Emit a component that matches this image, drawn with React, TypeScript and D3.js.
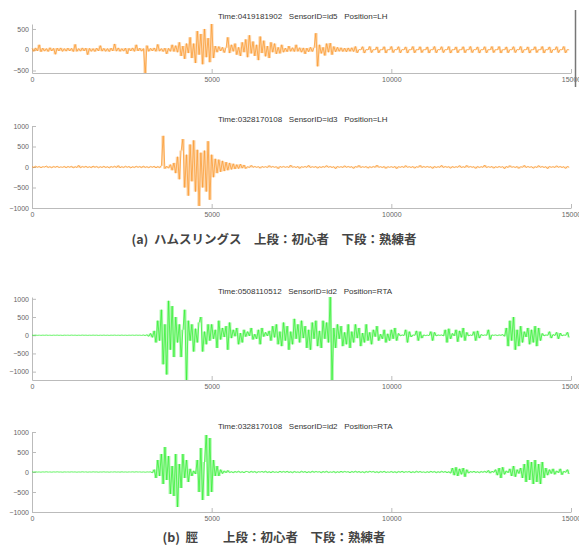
import React, { useEffect, useRef } from 'react'
import * as d3 from 'd3'

// samples between two stored values
const SAMPLE_STEP = 50
const xTicks = [0, 5000, 10000, 15000]
const yTicksSmall = [-500, 0, 500]
const yTicksLarge = [-1000, -500, 0, 500, 1000]

const titles = [
  'Time:0419181902   SensorID=id5   Position=LH',
  'Time:0328170108   SensorID=id3   Position=LH',
  'Time:0508110512   SensorID=id2   Position=RTA',
  'Time:0328170108   SensorID=id2   Position=RTA'
]
const captionA = '(a)  ハムスリングス　上段：初心者　下段：熟練者'
const captionB = '(b)  脛　　上段：初心者　下段：熟練者'

// hamstring, beginner (one value every 50 samples)
const hamBeginner = [
  30,-40,45,-30,120,-50,40,-35,30,-45,50,-30,35,-110,40,-30,45,-40,30,-35,
  40,-30,35,-45,130,-40,30,-35,45,-30,40,-120,35,-40,30,-45,40,-30,100,-35,
  35,-40,30,-45,40,-30,140,-35,45,-40,30,-35,40,-100,35,-30,45,-40,120,-30,
  40,-35,30,-560,100,-40,35,-30,45,-40,130,-35,30,-45,40,-100,35,-40,120,-45,
  100,-60,180,-150,90,-220,150,-80,300,-200,150,-320,450,-120,380,-350,500,-180,280,-300,
  620,-200,90,-60,80,-30,60,-70,50,300,-80,120,-40,150,-120,60,-150,180,-60,250,
  -180,350,-90,200,-150,120,-250,320,-80,220,-160,90,-200,180,-60,150,-100,60,-90,120,
  -60,40,-50,90,-40,50,-45,120,-40,50,-60,45,-100,40,-50,60,-45,50,400,-400,
  120,-90,60,-140,150,-60,160,-120,80,-50,60,-40,50,-45,40,-50,45,-40,50,-45,
  80,-75,5,-5,75,-80,5,-5,80,-70,5,-5,70,-75,5,-5,75,-80,5,-5,
  80,-70,5,-5,75,-75,5,-5,70,-80,5,-5,80,-75,5,-5,75,-70,5,-5,
  70,-80,5,-5,80,-75,5,-5,75,-70,5,-5,80,-80,5,-5,70,-75,5,-5,
  75,-75,5,-5,80,-70,5,-5,70,-80,5,-5,75,-75,5,-5,80,-70,5,-5,
  80,-80,5,-5,70,-75,5,-5,75,-70,5,-5,80,-75,5,-5,70,-80,5,-5,
  75,-70,5,-5,80,-80,5,-5,70,-75,5,-5,75,-70,5,-5,80,-75,5,-5
]

// hamstring, expert
const hamExpert = [
  10,-15,20,-10,15,-20,10,-5,25,-15,10,-20,15,-10,20,-15,5,-10,15,-20,
  15,-10,20,-25,10,-15,40,-20,15,-10,20,-15,10,-20,25,-10,15,-20,10,-15,
  20,-15,10,-25,15,-10,20,-15,35,-20,10,-15,20,-10,15,-25,10,-15,20,-10,
  15,-20,25,-15,10,-20,15,-10,20,-25,15,-20,30,760,-40,20,-30,60,-80,100,
  -150,250,-300,400,680,-500,300,-700,550,-350,650,-600,420,-950,350,-500,400,-600,630,-800,
  300,-250,200,-150,180,-120,150,-100,120,-80,100,-60,80,-50,60,-40,70,-30,50,-40,
  10,-15,40,-10,15,-10,10,-30,15,-10,10,-15,35,-10,15,-10,10,-40,15,-10,
  15,-10,10,-15,45,-10,10,-15,15,-35,10,-10,15,-10,40,-15,10,-10,15,-30,
  10,-15,15,-10,35,-10,15,-15,10,-40,15,-10,10,-15,30,-10,15,-10,10,-35,
  15,-10,40,-15,10,-10,15,-30,10,-15,15,-10,45,-10,10,-15,15,-35,10,-10,
  10,-15,15,-40,10,-10,15,-15,35,-10,10,-15,15,-30,10,-10,40,-15,15,-10,
  15,-10,10,-35,15,-15,10,-10,40,-15,15,-10,10,-30,15,-15,10,-10,35,-15,
  10,-15,40,-10,15,-10,10,-35,15,-15,10,-10,45,-15,10,-10,15,-30,10,-15,
  15,-10,10,-40,15,-15,35,-10,10,-15,15,-35,10,-10,40,-15,15,-10,10,-30,
  10,-15,35,-10,15,-15,10,-40,15,-10,10,-15,30,-10,15,-15,10,-35,15,-10
]

// shin, beginner
const shinBeginner = [
  3,-2,4,-3,2,-4,3,-2,5,-3,2,-4,3,-2,4,-3,2,-5,3,-2,
  2,-3,4,-2,3,-4,2,-3,5,-2,3,-4,2,-3,4,-2,3,-5,2,-3,
  4,-3,2,-5,3,-2,4,-3,2,-4,5,-3,2,-4,3,-2,4,-3,5,-2,
  3,-5,8,-10,15,-30,50,-60,120,-200,400,-150,700,-800,300,-1080,945,-400,800,-600,
  500,-200,300,-600,150,700,-1230,400,-150,300,-450,180,-200,350,500,-450,100,-250,300,-150,
  300,-100,150,-350,400,-120,200,-50,250,-400,350,-80,150,-30,200,-250,60,-200,150,-40,
  100,-20,200,-120,30,-100,150,-250,200,-40,80,-20,120,-150,250,-60,300,-250,100,-300,
  350,-150,250,-400,100,-250,450,-100,300,-200,400,-80,250,-350,150,-400,350,-100,400,-300,
  120,-350,400,-100,350,-200,1050,-1230,200,-350,300,-100,250,-300,80,-250,300,-350,100,-200,
  300,-80,200,-300,60,-200,300,-150,80,-250,150,-40,250,-150,30,-100,150,-200,40,-150,
  150,-100,200,-150,50,-20,10,-10,150,-200,100,-50,10,-5,120,-150,100,-80,10,-10,
  5,-10,100,-150,80,-20,10,-5,10,-20,150,-200,180,-100,50,-20,150,-180,120,-60,
  200,-150,80,-20,10,-10,100,-150,120,-80,20,-10,10,-5,150,-120,10,-5,10,-10,
  10,-5,20,-30,200,-300,400,-150,500,-400,150,-300,250,-200,100,-50,200,-250,150,-200,
  250,-300,200,-150,50,-20,10,-5,100,-80,20,-10,80,-100,60,-20,10,-5,80,-60
]

// shin, expert
const shinExpert = [
  3,-2,4,-3,2,-4,3,-2,5,-3,2,-4,3,-2,4,-3,2,-5,3,-2,
  2,-3,4,-2,3,-4,2,-3,5,-2,3,-4,2,-3,4,-2,3,-5,2,-3,
  4,-3,2,-5,3,-2,4,-3,2,-4,5,-3,2,-4,3,-2,4,-3,5,-2,
  3,-4,2,-5,3,-2,4,-20,60,-150,300,-100,450,-300,625,-200,400,-550,150,-600,
  450,-875,200,-400,450,-150,300,-250,80,-100,30,-50,300,-500,600,-700,250,925,-600,850,
  -500,300,-100,150,-100,60,-40,30,-20,40,-15,10,-20,15,-10,20,-15,10,-20,15,
  10,-15,20,-10,15,-20,10,-5,15,-10,20,-15,10,-20,15,-10,5,-15,20,-10,
  15,-10,20,-15,10,-20,15,-10,5,-15,20,-10,15,-20,10,-15,20,-10,15,-5,
  10,-20,15,-10,20,-15,5,-10,15,-20,10,-15,20,-10,15,-5,10,-20,15,-10,
  20,-10,15,-15,10,-20,15,-10,20,-5,15,-15,10,-20,15,-10,20,-15,5,-10,
  15,-15,10,-20,15,-10,20,-15,10,-5,15,-20,10,-15,20,-10,15,-10,5,-15,
  10,-15,20,-10,15,-20,10,-15,20,-10,15,-20,10,-30,100,-80,120,-100,80,-60,
  100,-120,60,-30,15,-10,20,-15,10,-20,15,-10,20,-15,40,-30,20,-10,60,-80,
  100,-150,120,-60,30,-20,80,-100,150,-120,60,-40,100,-150,200,-250,300,-200,250,-300,
  300,-250,200,-300,250,-150,100,-80,60,-40,80,-60,30,-20,80,-70,20,-10,60,-50
]

const ORANGE = '#fb9627'
const GREEN = '#2aee2a'

const panels = [
  { data: hamBeginner, title: titles[0], yDomain: [-560, 620], yTicks: yTicksSmall, color: ORANGE, top: 24, bottom: 73, titleY: 19 },
  { data: hamExpert, title: titles[1], yDomain: [-1000, 1000], yTicks: yTicksLarge, color: ORANGE, top: 126, bottom: 208, titleY: 122 },
  { data: shinBeginner, title: titles[2], yDomain: [-1230, 1050], yTicks: yTicksLarge, color: GREEN, top: 297, bottom: 380, titleY: 294 },
  { data: shinExpert, title: titles[3], yDomain: [-1000, 1000], yTicks: yTicksLarge, color: GREEN, top: 432, bottom: 512, titleY: 429 }
]

const W = 579
const H = 552
const X0 = 32
const X1 = 571
const labelFont = '"Liberation Sans", Arial, sans-serif'

export default function App() {
  const ref = useRef<SVGSVGElement>(null)

  useEffect(() => {
    const svg = d3.select(ref.current)
    svg.selectAll('*').remove()

    const x = d3.scaleLinear().domain([0, 15000]).range([X0, X1])
    const binW = x(SAMPLE_STEP) - x(0)

    panels.forEach((p) => {
      const y = d3.scaleLinear().domain(p.yDomain).range([p.bottom, p.top])
      const g = svg.append('g')

      g.append('text')
        .attr('x', 218)
        .attr('y', p.titleY)
        .style('white-space', 'pre')
        .attr('font-family', labelFont)
        .attr('font-size', 8)
        .attr('fill', '#333')
        .text(p.title)

      // y axis
      const ya = g.append('g')
        .attr('transform', 'translate(' + X0 + ',0)')
        .call(d3.axisLeft(y).tickValues(p.yTicks).tickSize(-4).tickSizeOuter(0).tickPadding(3).tickFormat(d3.format('d')))

      // x axis
      const xa = g.append('g')
        .attr('transform', 'translate(0,' + p.bottom + ')')
        .call(d3.axisBottom(x).tickValues(xTicks).tickSize(-4).tickSizeOuter(0).tickPadding(4).tickFormat(d3.format('d')))

      ;[ya, xa].forEach((a) => {
        a.select('.domain').attr('stroke', '#bbb')
        a.selectAll('.tick line').attr('stroke', '#bbb')
        a.selectAll('.tick text').attr('fill', '#666').attr('font-size', 7).attr('font-family', labelFont)
      })

      // pale envelope: each step spans min..max of its two values
      const steps = d3.pairs(p.data)
      g.append('g')
        .selectAll('line')
        .data(steps)
        .enter()
        .append('line')
        .attr('x1', (d, i) => x((i + 0.5) * SAMPLE_STEP))
        .attr('x2', (d, i) => x((i + 0.5) * SAMPLE_STEP))
        .attr('y1', (d) => y(d[0]))
        .attr('y2', (d) => y(d[1]))
        .attr('stroke', p.color)
        .attr('stroke-width', binW)
        .attr('stroke-opacity', 0.4)

      // the signal itself on top
      const line = d3.line<number>()
        .x((d, i) => x(i * SAMPLE_STEP))
        .y((d) => y(d))

      g.append('path')
        .datum(p.data)
        .attr('d', line)
        .attr('fill', 'none')
        .attr('stroke', p.color)
        .attr('stroke-width', 0.7)
        .attr('stroke-linejoin', 'miter')
        .attr('stroke-opacity', 0.95)
    })

    // dark edge mark at the top right of the first plot
    svg.append('line')
      .attr('x1', 575.5).attr('x2', 575.5)
      .attr('y1', 10).attr('y2', 87)
      .attr('stroke', '#777')
      .attr('stroke-width', 1.5)

    const captions = [
      { text: captionA, y: 244 },
      { text: captionB, y: 542 }
    ]
    svg.selectAll('.caption')
      .data(captions)
      .enter()
      .append('text')
      .attr('class', 'caption')
      .attr('x', 274)
      .attr('y', (d) => d.y)
      .attr('text-anchor', 'middle')
      .style('white-space', 'pre')
      .attr('font-family', '"Noto Sans CJK JP", sans-serif')
      .attr('font-weight', 'bold')
      .attr('font-size', 12.5)
      .attr('fill', '#444')
      .text((d) => d.text)
  }, [])

  return (
    <svg
      ref={ref}
      width={W}
      height={H}
      style={{ position: 'absolute', left: 0, top: 0, background: '#fff' }}
    />
  )
}
